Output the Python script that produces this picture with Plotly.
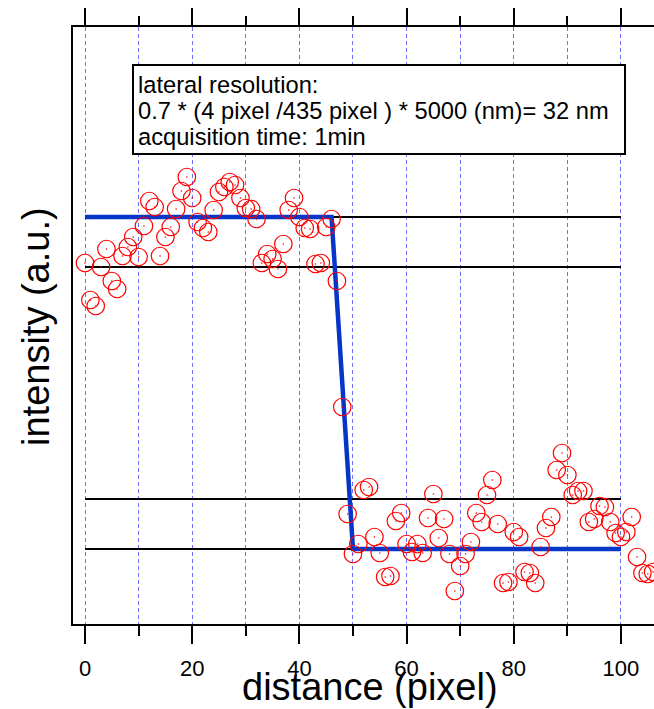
import plotly.graph_objects as go

# ---- data ----
distance = list(range(0, 107))
intensity = [
    362, 325, 319, 358, 376, 344, 336, 369, 378, 388,
    368, 399, 424, 418, 369, 388, 398, 416, 434, 448,
    427, 403, 397, 393, 415, 433, 438, 443, 440, 427,
    417, 416, 406, 362, 371, 366, 356, 381, 415, 427,
    408, 397, 396, 361, 362, 398, 406, 344, 218, 111,
    71, 81, 135, 138, 88, 72, 48, 49, 104, 112,
    81, 73, 81, 72, 107, 131, 87, 106, 71, 34,
    59, 71, 83, 112, 103, 130, 145, 101, 42, 43,
    93, 88, 53, 52, 42, 78, 97, 108, 155, 172,
    150, 130, 134, 134, 103, 106, 119, 118, 103, 92,
    88, 93, 108, 68, 52, 51, 53,
]
fit_x = [0, 46, 50, 100]
fit_y = [408, 408, 76, 76]
level_x = [0, 100]
levels = [408, 358, 126, 76]
x_ticks = [0, 20, 40, 60, 80, 100]
info_lines = [
    "lateral resolution:",
    "0.7 * (4 pixel /435 pixel ) * 5000 (nm)= 32 nm",
    "acquisition time: 1min",
]

FONT = "Liberation Sans, Arial, sans-serif"
W, H = 654, 709
L, R, T, B = 73, 0, 27, 85
PW, PH = W - L - R, H - T - B


def px(xp):
    return (xp - L) / PW


def py(yp):
    return (H - B - yp) / PH


fig = go.Figure()

for lv in levels:
    fig.add_trace(go.Scatter(
        x=level_x, y=[lv, lv], mode="lines",
        line=dict(color="black", width=2.2), hoverinfo="skip", showlegend=False,
    ))

fig.add_trace(go.Scatter(
    x=fit_x, y=fit_y, mode="lines",
    line=dict(color="#0636c8", width=4.5), showlegend=False,
))

fig.add_trace(go.Scatter(
    x=distance, y=intensity, mode="markers",
    marker=dict(symbol="circle-open", size=17.5, color="#ff0000",
                line=dict(color="#ff0000", width=1.2)),
    cliponaxis=False, showlegend=False,
))
fig.add_trace(go.Scatter(
    x=distance, y=intensity, mode="markers",
    marker=dict(symbol="circle", size=1.6, color="#ff0000",
                line=dict(width=0)),
    cliponaxis=False, showlegend=False, hoverinfo="skip",
))

# dummy trace to anchor top axis
fig.add_trace(go.Scatter(x=[0], y=[None], xaxis="x2", mode="markers",
                         showlegend=False, hoverinfo="skip"))

xrange = [-2.24, 106.16]
grid_col = "#6f6fff"
fig.update_layout(
    width=W, height=H,
    margin=dict(l=L, r=R, t=T, b=B, pad=0),
    paper_bgcolor="white", plot_bgcolor="white",
    font=dict(family=FONT, color="black"),
    xaxis=dict(
        range=xrange, tickvals=x_ticks, ticks="outside", ticklen=18, tickwidth=2,
        tickcolor="black", showline=True, linewidth=2, linecolor="black",
        showgrid=True, gridcolor=grid_col, griddash="4px,3px", gridwidth=1,
        zeroline=False, tickfont=dict(size=22, family=FONT, color="black"),
        ticklabelstandoff=6,
        minor=dict(tickvals=[10, 30, 50, 70, 90], ticks="outside", ticklen=10,
                   tickwidth=2, tickcolor="black", showgrid=True,
                   gridcolor=grid_col, griddash="4px,3px", gridwidth=1),
    ),
    xaxis2=dict(
        range=xrange, overlaying="x", side="top", anchor="y",
        tickvals=x_ticks, ticks="outside", ticklen=17, tickwidth=2,
        tickcolor="black", showline=True, linewidth=2, linecolor="black",
        showticklabels=False, showgrid=False, zeroline=False,
        minor=dict(tickvals=[10, 30, 50, 70, 90], ticks="outside", ticklen=9,
                   tickwidth=2, tickcolor="black", showgrid=False),
    ),
    yaxis=dict(
        range=[1, 598], showline=True, linewidth=2, linecolor="black",
        showticklabels=False, ticks="", showgrid=False, zeroline=False,
    ),
)

# info box
fig.add_shape(type="rect", xref="paper", yref="paper",
              x0=px(133), x1=px(625), y0=py(154), y1=py(65),
              line=dict(color="black", width=2), fillcolor="white", layer="above")
for line_text, yc in zip(info_lines, [85, 111, 137]):
    fig.add_annotation(text=line_text, xref="paper", yref="paper",
                       x=px(136), y=py(yc), xanchor="left", yanchor="middle",
                       showarrow=False, font=dict(size=23.7, family=FONT, color="black"))

# axis titles
fig.add_annotation(text="distance (pixel)", xref="paper", yref="paper",
                   x=px(370), y=py(687), xanchor="center", yanchor="middle",
                   showarrow=False, font=dict(size=38, family=FONT, color="black"))
fig.add_annotation(text="intensity (a.u.)", xref="paper", yref="paper",
                   x=px(36), y=py(327), xanchor="center", yanchor="middle",
                   textangle=-90, showarrow=False,
                   font=dict(size=38, family=FONT, color="black"))

fig.write_html("out.html")
